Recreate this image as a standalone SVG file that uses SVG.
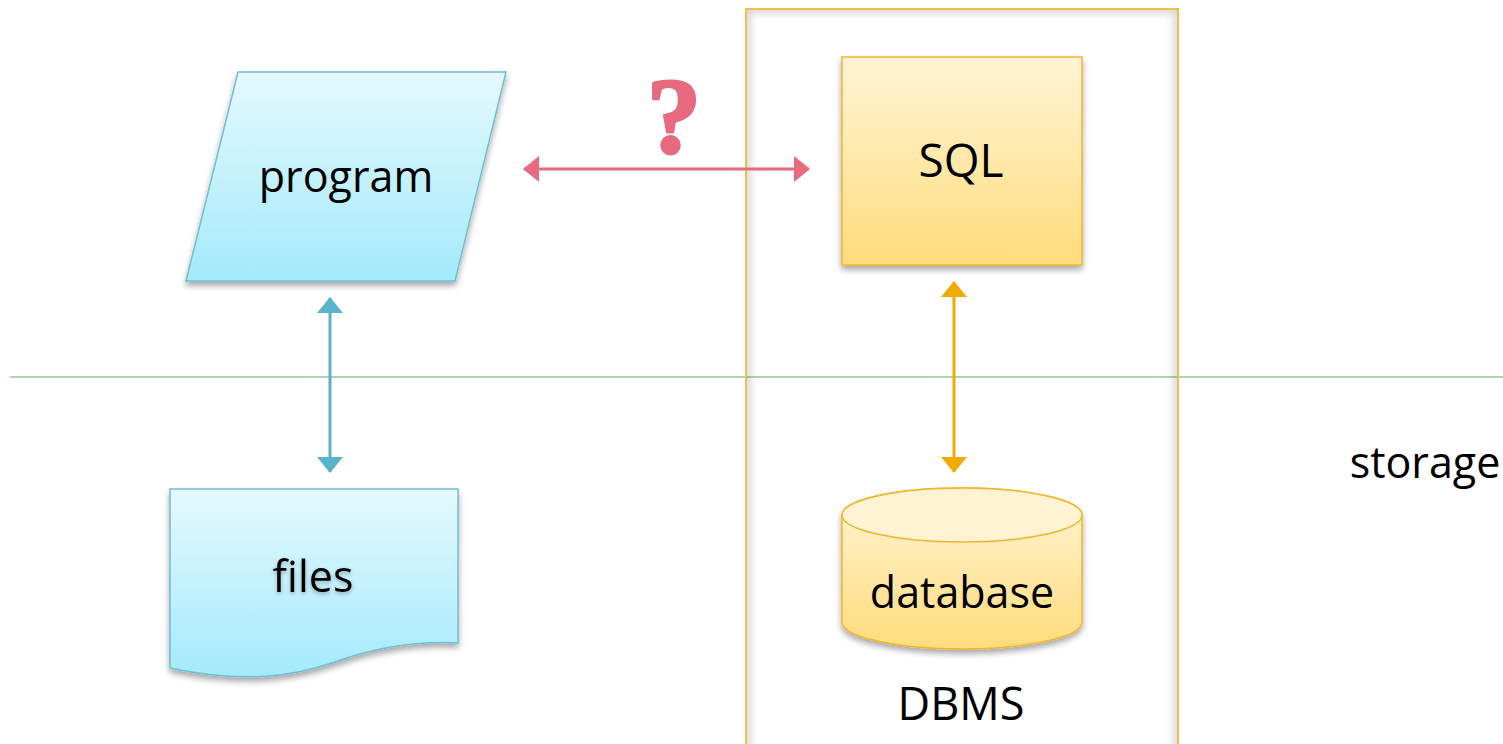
<svg xmlns="http://www.w3.org/2000/svg" width="1503" height="744" viewBox="0 0 1503 744">
  <defs>
    <linearGradient id="blueFill" x1="0" y1="0" x2="0" y2="1">
      <stop offset="0" stop-color="#e4f9fe"/>
      <stop offset="1" stop-color="#a4eafb"/>
    </linearGradient>
    <linearGradient id="yellowFill" x1="0" y1="0" x2="0" y2="1">
      <stop offset="0" stop-color="#fff4d6"/>
      <stop offset="1" stop-color="#ffdc7c"/>
    </linearGradient>
    <filter id="drop" x="-10%" y="-10%" width="120%" height="125%">
      <feGaussianBlur in="SourceAlpha" stdDeviation="3"/>
      <feOffset dx="0" dy="4" result="b"/>
      <feComponentTransfer><feFuncA type="linear" slope="0.35"/></feComponentTransfer>
      <feMerge><feMergeNode/><feMergeNode in="SourceGraphic"/></feMerge>
    </filter>
    <filter id="soft" x="-20%" y="-20%" width="140%" height="140%">
      <feGaussianBlur stdDeviation="4"/>
    </filter>
    <filter id="glow" x="-20%" y="-20%" width="140%" height="140%">
      <feGaussianBlur in="SourceAlpha" stdDeviation="2"/>
      <feOffset dy="2"/>
      <feComponentTransfer><feFuncA type="linear" slope="0.3"/></feComponentTransfer>
      <feMerge><feMergeNode/><feMergeNode in="SourceGraphic"/></feMerge>
    </filter>
    <clipPath id="dbmsClip"><rect x="746" y="9" width="432" height="760"/></clipPath>
    <marker id="pinkHead" viewBox="0 0 16 26" refX="15" refY="13" markerWidth="16" markerHeight="26" markerUnits="userSpaceOnUse" orient="auto-start-reverse">
      <path d="M0,0 L16,13 L0,26 Z" fill="#e76a7f"/>
    </marker>
    <marker id="blueHead" viewBox="0 0 16 26" refX="15" refY="13" markerWidth="16" markerHeight="26" markerUnits="userSpaceOnUse" orient="auto-start-reverse">
      <path d="M0,0 L16,13 L0,26 Z" fill="#5ab3cc"/>
    </marker>
    <marker id="yellowHead" viewBox="0 0 16 26" refX="15" refY="13" markerWidth="16" markerHeight="26" markerUnits="userSpaceOnUse" orient="auto-start-reverse">
      <path d="M0,0 L16,13 L0,26 Z" fill="#f0ac00"/>
    </marker>
  </defs>
  <style>
    .label { font-family: "Open Sans", "Noto Sans", sans-serif; font-size: 43px; fill: #000; text-anchor: middle; }
    .blue { fill: url(#blueFill); stroke: #72bdd1; stroke-width: 1.5; }
    .yellow { fill: url(#yellowFill); stroke: #f2b52a; stroke-width: 1.5; }
  </style>

  <rect width="1503" height="744" fill="#ffffff"/>

  <!-- storage boundary -->
  <line x1="10" y1="377" x2="1503" y2="377" stroke="#8fc88f" stroke-width="1.5"/>
  <text class="label" x="1425" y="478">storage</text>

  <!-- DBMS container -->
  <g id="dbms">
    <g clip-path="url(#dbmsClip)">
      <rect x="746" y="9" width="432" height="760" fill="none" stroke="#000" stroke-opacity="0.18" stroke-width="8" filter="url(#soft)"/>
    </g>
    <rect x="746" y="9" width="432" height="760" fill="none" stroke="#f3bf45" stroke-width="2"/>
    <text class="label" x="961" y="720" style="font-size:45px">DBMS</text>
  </g>

  <!-- program -->
  <g id="program">
    <path class="blue" d="M238,72 L506,72 L455,281 L186,281 Z" filter="url(#drop)"/>
    <text class="label" x="346" y="192">program</text>
  </g>

  <!-- files -->
  <g id="files">
    <path class="blue" d="M170,489 L458,489 L458,643 C420,641 380,646 335,662 C295,676 245,684 170,668 Z" filter="url(#drop)"/>
    <text class="label" x="313" y="592" filter="url(#glow)">files</text>
  </g>

  <!-- SQL -->
  <g id="sql">
    <rect class="yellow" x="842" y="57" width="240" height="208" filter="url(#drop)"/>
    <text class="label" x="961" y="177" style="font-size:46px">SQL</text>
  </g>

  <!-- database -->
  <g id="database">
    <path class="yellow" d="M842,515 L842,622 A120,27 0 0 0 1082,622 L1082,515 A120,27 0 0 0 842,515 Z" filter="url(#drop)"/>
    <ellipse cx="962" cy="515" rx="120" ry="27" fill="#fff3d4" stroke="#f2b52a" stroke-width="1.5"/>
    <text class="label" x="962" y="608">database</text>
  </g>

  <!-- connectors -->
  <g id="connectors">
    <line x1="524" y1="169" x2="809" y2="169" stroke="#e76a7f" stroke-width="3" marker-start="url(#pinkHead)" marker-end="url(#pinkHead)"/>
    <text x="674" y="152" font-family="Liberation Serif, serif" font-weight="bold" font-size="108" fill="#e76a7f" stroke="#e76a7f" stroke-width="3" stroke-linejoin="round" text-anchor="middle">?</text>
    <line x1="330" y1="298" x2="330" y2="472" stroke="#5ab3cc" stroke-width="3" marker-start="url(#blueHead)" marker-end="url(#blueHead)"/>
    <line x1="954" y1="282" x2="954" y2="472" stroke="#f0ac00" stroke-width="3" marker-start="url(#yellowHead)" marker-end="url(#yellowHead)"/>
  </g>
</svg>
